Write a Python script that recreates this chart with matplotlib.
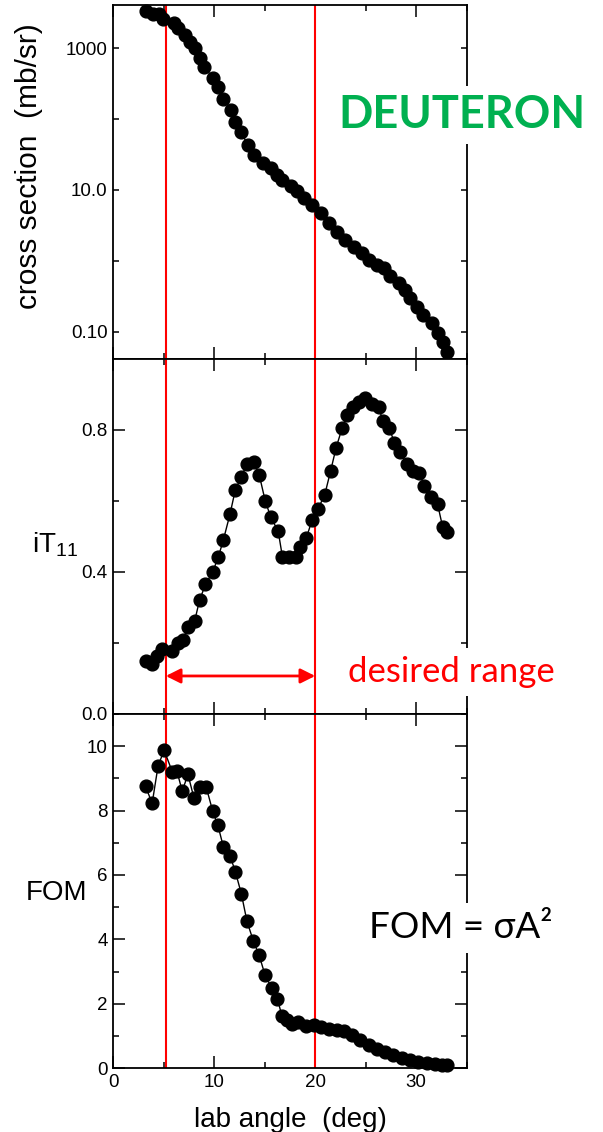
import matplotlib

matplotlib.use("Agg")

import matplotlib.pyplot as plt
from matplotlib.ticker import FixedLocator, FixedFormatter, MultipleLocator


# cross section (mb/sr) vs lab angle (deg)
xs_angle = [
    3.19, 3.94, 4.53, 4.93, 5.98, 6.40, 7.06, 7.56, 8.05, 8.54,
    9.03, 9.85, 10.35, 10.90, 11.66, 12.09, 12.65, 13.30, 13.96, 14.78,
    15.60, 16.26, 16.75, 17.57, 18.23, 18.89, 19.70, 20.53, 21.35, 22.17,
    22.99, 23.81, 24.63, 25.29, 26.11, 26.77, 27.43, 28.25, 28.90, 29.40,
    30.05, 30.71, 31.53, 32.19, 32.68, 33.10,
]
xs_value = [
    3388, 3090, 3090, 2630, 2240, 1905, 1549, 1230, 1000, 724,
    550, 380, 282, 195, 135, 91, 66, 43.6, 30.9, 24.0,
    20.4, 16.2, 13.8, 11.2, 9.55, 7.6, 6.2, 4.7, 3.4, 2.57,
    1.95, 1.58, 1.29, 1.02, 0.87, 0.78, 0.60, 0.48, 0.39, 0.295,
    0.224, 0.174, 0.132, 0.095, 0.072, 0.052,
]

# analysing power iT11
it11_angle = [
    3.19, 3.85, 4.34, 4.83, 5.85, 6.41, 6.90, 7.39, 8.05, 8.54,
    9.13, 9.85, 10.41, 10.90, 11.56, 12.09, 12.68, 13.24, 13.89, 14.45,
    15.04, 15.60, 16.33, 16.75, 17.41, 18.07, 18.49, 19.11, 19.70, 20.27,
    20.93, 21.52, 22.07, 22.66, 23.15, 23.71, 24.30, 24.96, 25.62, 26.28,
    26.70, 27.33, 27.85, 28.41, 29.06, 29.72, 30.31, 30.81, 31.47, 32.12,
    32.61, 33.10,
]
it11_value = [
    0.148, 0.140, 0.164, 0.184, 0.178, 0.200, 0.209, 0.244, 0.261, 0.320,
    0.365, 0.400, 0.443, 0.490, 0.563, 0.632, 0.668, 0.705, 0.710, 0.674,
    0.601, 0.554, 0.515, 0.443, 0.441, 0.441, 0.471, 0.495, 0.547, 0.578,
    0.616, 0.684, 0.750, 0.805, 0.842, 0.864, 0.879, 0.889, 0.873, 0.864,
    0.826, 0.805, 0.764, 0.739, 0.703, 0.684, 0.679, 0.643, 0.610, 0.591,
    0.528, 0.513,
]

# figure of merit
fom_angle = [
    3.19, 3.85, 4.43, 5.03, 5.85, 6.31, 6.83, 7.39, 7.98, 8.54,
    9.20, 9.85, 10.35, 10.90, 11.56, 12.09, 12.68, 13.24, 13.86, 14.45,
    15.04, 15.70, 16.26, 16.69, 17.24, 17.73, 18.33, 19.05, 19.87, 20.53,
    21.35, 22.17, 22.83, 23.65, 24.47, 25.29, 26.11, 26.94, 27.75, 28.57,
    29.40, 30.22, 31.03, 31.86, 32.51, 33.10,
]
fom_value = [
    8.75, 8.23, 9.38, 9.88, 9.20, 9.22, 8.60, 9.13, 8.40, 8.73,
    8.73, 7.98, 7.55, 6.88, 6.60, 6.10, 5.42, 4.56, 3.96, 3.50,
    2.88, 2.48, 2.15, 1.63, 1.49, 1.38, 1.44, 1.30, 1.33, 1.28,
    1.21, 1.18, 1.16, 1.04, 0.87, 0.71, 0.60, 0.50, 0.40, 0.31,
    0.24, 0.19, 0.16, 0.12, 0.10, 0.08,
]

range_lo = 5.2
range_hi = 20.0

plt.rcParams["font.family"] = ["Liberation Sans", "DejaVu Sans"]
plt.rcParams["axes.linewidth"] = 1.3

fig = plt.figure(figsize=(6.03, 11.32), dpi=100)

left = 0.1879
width = 0.586
ax_xs = fig.add_axes([left, 0.6829, width, 0.3127])
ax_it = fig.add_axes([left, 0.3693, width, 0.3136])
ax_fom = fig.add_axes([left, 0.0565, width, 0.3127])

marker_style = dict(
    color="black", marker="o", markersize=9.2, linewidth=1.0, clip_on=False, zorder=3
)

ax_xs.plot(xs_angle, xs_value, **marker_style)
ax_it.plot(it11_angle, it11_value, **marker_style)
ax_fom.plot(fom_angle, fom_value, **marker_style)

for ax in (ax_xs, ax_it, ax_fom):
    ax.set_xlim(0, 35)
    ax.xaxis.set_major_locator(MultipleLocator(10))
    ax.xaxis.set_minor_locator(MultipleLocator(5))
    ax.tick_params(which="both", direction="in", top=True, right=True,
                   labelsize=13.5, width=1.1, pad=4)
    ax.tick_params(which="major", length=8.5)
    ax.tick_params(which="minor", length=4.5)
    ax.axvline(range_lo, color="red", linewidth=1.5, zorder=2)
    ax.axvline(range_hi, color="red", linewidth=1.5, zorder=2)

ax_xs.tick_params(labelbottom=False)
ax_it.tick_params(labelbottom=False)

# cross section panel (log)
ax_xs.set_yscale("log")
ax_xs.set_ylim(0.041, 4085)
ax_xs.yaxis.set_major_locator(FixedLocator([0.1, 10, 1000]))
ax_xs.yaxis.set_major_formatter(FixedFormatter(["0.10", "10.0", "1000"]))
ax_xs.yaxis.set_minor_locator(FixedLocator([1, 100]))
ax_xs.yaxis.set_minor_formatter(FixedFormatter(["", ""]))
ax_xs.tick_params(axis="y", which="major", length=4.5)
ax_xs.set_ylabel("cross section  (mb/sr)", fontsize=21.5)
ax_xs.yaxis.set_label_coords(-0.20, 0.545)

# iT11 panel
ax_it.set_ylim(0, 1.0)
ax_it.yaxis.set_major_locator(FixedLocator([0.0, 0.4, 0.8]))
ax_it.yaxis.set_major_formatter(FixedFormatter(["0.0", "0.4", "0.8"]))
ax_it.yaxis.set_minor_locator(FixedLocator([0.2, 0.6]))
ax_it.set_ylabel(r"iT$\mathregular{_{11}}$", fontsize=20, rotation=0, ha="center", va="center")
ax_it.yaxis.set_label_coords(-0.165, 0.476)

ax_it.annotate(
    "", xy=(range_lo, 0.107), xytext=(range_hi, 0.107),
    arrowprops=dict(arrowstyle="<|-|>", color="red", lw=2, mutation_scale=22,
                    shrinkA=0, shrinkB=0),
)

# FOM panel
ax_fom.set_ylim(0, 11)
ax_fom.yaxis.set_major_locator(MultipleLocator(2))
ax_fom.yaxis.set_minor_locator(MultipleLocator(1))
ax_fom.set_ylabel("FOM", fontsize=20, rotation=0, ha="center", va="center")
ax_fom.yaxis.set_label_coords(-0.16, 0.494)
ax_fom.set_xlabel("lab angle  (deg)", fontsize=20, labelpad=12)

# annotations with white boxes that sit over the right spine
box = dict(facecolor="white", edgecolor="none", pad=6)
fig.text(462 / 603, 1 - 115 / 1132, "DEUTERON", color="#00B050", fontsize=32.5,
         fontweight="bold", family=["Lato", "DejaVu Sans"], ha="center",
         va="center", bbox=box, zorder=10)
fig.text(451 / 603, 1 - 672 / 1132, "desired range", color="red", fontsize=25,
         family=["Lato", "DejaVu Sans"], ha="center", va="center", bbox=box,
         zorder=10)
fig.text(461 / 603, 1 - 928 / 1132, "FOM = σA²", color="black", fontsize=26.5,
         family=["Lato", "DejaVu Sans"], ha="center", va="center", bbox=box,
         zorder=10)

fig.savefig("out.png", dpi=100)
